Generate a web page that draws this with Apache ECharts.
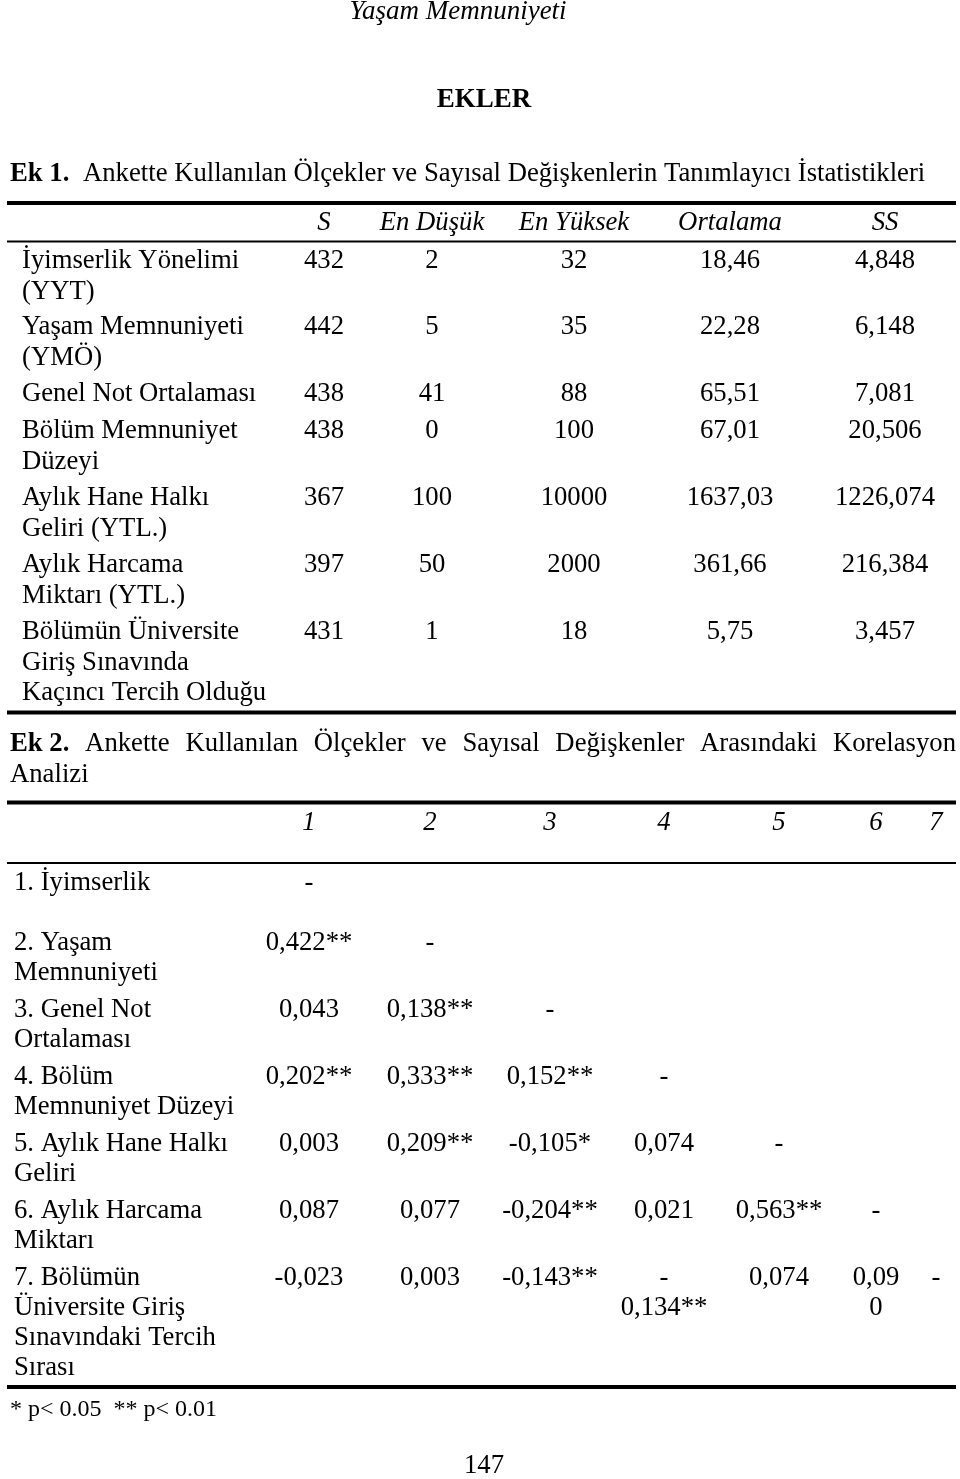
<!DOCTYPE html>
<html>
<head>
<meta charset="utf-8">
<script src="https://cdn.jsdelivr.net/npm/echarts@6/dist/echarts.min.js"></script>
<style>
  html, body { margin: 0; padding: 0; background: #fff; }
  #page { width: 960px; height: 1479px; }
</style>
</head>
<body>
<div id="page"></div>
<script>
  // Ek 1 - tanımlayıcı istatistikler
  var t1Header = ['S', 'En Düşük', 'En Yüksek', 'Ortalama', 'SS'];
  var t1Labels = [
    ['İyimserlik Yönelimi', '(YYT)'],
    ['Yaşam Memnuniyeti', '(YMÖ)'],
    ['Genel Not Ortalaması'],
    ['Bölüm Memnuniyet', 'Düzeyi'],
    ['Aylık Hane Halkı', 'Geliri (YTL.)'],
    ['Aylık Harcama', 'Miktarı (YTL.)'],
    ['Bölümün Üniversite', 'Giriş Sınavında', 'Kaçıncı Tercih Olduğu']
  ];
  var t1S = ['432', '442', '438', '438', '367', '397', '431'];
  var t1Min = ['2', '5', '41', '0', '100', '50', '1'];
  var t1Max = ['32', '35', '88', '100', '10000', '2000', '18'];
  var t1Mean = ['18,46', '22,28', '65,51', '67,01', '1637,03', '361,66', '5,75'];
  var t1SD = ['4,848', '6,148', '7,081', '20,506', '1226,074', '216,384', '3,457'];

  // Ek 2 - korelasyon
  var t2Header = ['1', '2', '3', '4', '5', '6', '7'];
  var t2Labels = [
    ['1. İyimserlik'],
    ['2. Yaşam', 'Memnuniyeti'],
    ['3. Genel Not', 'Ortalaması'],
    ['4. Bölüm', 'Memnuniyet Düzeyi'],
    ['5. Aylık Hane Halkı', 'Geliri'],
    ['6. Aylık Harcama', 'Miktarı'],
    ['7. Bölümün', 'Üniversite Giriş', 'Sınavındaki Tercih', 'Sırası']
  ];
  var t2Values = [
    ['-'],
    ['0,422**', '-'],
    ['0,043', '0,138**', '-'],
    ['0,202**', '0,333**', '0,152**', '-'],
    ['0,003', '0,209**', '-0,105*', '0,074', '-'],
    ['0,087', '0,077', '-0,204**', '0,021', '0,563**', '-'],
    ['-0,023', '0,003', '-0,143**', '-\n0,134**', '0,074', '0,09\n0', '-']
  ];

  var FONT = 'Liberation Serif';
  var FS = 26.7;
  var chart = echarts.init(document.getElementById('page'), null, { renderer: 'canvas' });
  var els = [];

  function txt(s, x, y, opt) {
    opt = opt || {};
    els.push({
      type: 'text',
      x: x, y: y,
      style: {
        text: s,
        fill: '#000',
        font: (opt.style || 'normal') + ' ' + (opt.weight || 'normal') + ' ' + (opt.size || FS) + 'px "' + FONT + '"',
        textAlign: opt.align || 'left',
        textVerticalAlign: 'middle',
        lineHeight: opt.lineHeight || 30
      }
    });
  }
  function rule(y, w) {
    els.push({
      type: 'rect',
      shape: { x: 7, y: y - w / 2, width: 949, height: w },
      style: { fill: '#000' }
    });
  }

  // measure for justified title
  var ctx = document.createElement('canvas').getContext('2d');
  function measure(s, weight) {
    ctx.font = (weight || 'normal') + ' ' + FS + 'px "' + FONT + '"';
    return ctx.measureText(s).width;
  }

  // page header
  txt('Yaşam Memnuniyeti', 458, 12, { style: 'italic', align: 'center', size: 27 });
  txt('EKLER', 484, 100, { weight: 'bold', align: 'center', size: 27 });

  // Ek 1 title
  txt('Ek 1.', 10, 174, { weight: 'bold' });
  txt('Ankette Kullanılan Ölçekler ve Sayısal Değişkenlerin Tanımlayıcı İstatistikleri', 83, 174);

  rule(203, 4);
  rule(241.5, 2);
  rule(712.5, 4);

  var t1Cols = [324, 432, 574, 730, 885];
  var t1Rows = [261, 327, 394, 431, 498, 565, 632];
  var t1Data = [t1S, t1Min, t1Max, t1Mean, t1SD];
  t1Header.forEach(function (h, i) {
    txt(h, t1Cols[i], 223, { style: 'italic', align: 'center' });
  });
  t1Labels.forEach(function (lines, r) {
    txt(lines.join('\n'), 22, t1Rows[r] + (lines.length - 1) * 15.25, { lineHeight: 30.5 });
    t1Data.forEach(function (col, c) {
      txt(col[r], t1Cols[c], t1Rows[r], { align: 'center' });
    });
  });

  // Ek 2 title, justified
  var words = ['Ek 2.', 'Ankette', 'Kullanılan', 'Ölçekler', 've', 'Sayısal', 'Değişkenler', 'Arasındaki', 'Korelasyon'];
  var ws = words.map(function (w, i) { return measure(w, i === 0 ? 'bold' : 'normal'); });
  var total = ws.reduce(function (a, b) { return a + b; }, 0);
  var gap = (956 - 10 - total) / (words.length - 1);
  var cx = 10;
  words.forEach(function (w, i) {
    txt(w, cx, 744, { weight: i === 0 ? 'bold' : 'normal' });
    cx += ws[i] + gap;
  });
  txt('Analizi', 10, 775);

  rule(802.5, 4);
  rule(863, 2);
  rule(1387, 4);

  var t2Cols = [309, 430, 550, 664, 779, 876, 936];
  var t2Rows = [883, 943, 1010, 1077, 1144, 1211, 1278];
  t2Header.forEach(function (h, i) {
    txt(h, t2Cols[i], 823, { style: 'italic', align: 'center' });
  });
  t2Labels.forEach(function (lines, r) {
    txt(lines.join('\n'), 14, t2Rows[r] + (lines.length - 1) * 15, { lineHeight: 30 });
    t2Values[r].forEach(function (v, c) {
      var n = v.split('\n').length;
      txt(v, t2Cols[c], t2Rows[r] + (n - 1) * 15, { align: 'center', lineHeight: 30 });
    });
  });

  txt('* p< 0.05  ** p< 0.01', 10, 1410, { size: 24 });
  txt('147', 484, 1466, { align: 'center', size: 26.7 });

  chart.setOption({
    backgroundColor: '#fff',
    animation: false,
    graphic: { elements: els }
  });
</script>
</body>
</html>
